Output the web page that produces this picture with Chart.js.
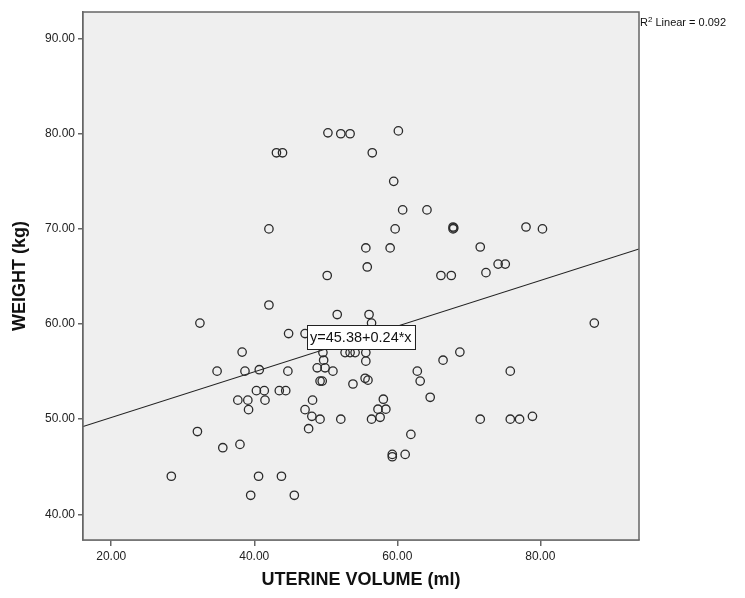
<!DOCTYPE html>
<html>
<head>
<meta charset="utf-8">
<script src="https://cdn.jsdelivr.net/npm/chart.js@4"></script>
<style>
html,body{margin:0;padding:0;background:#fff;}
#wrap{width:745px;height:598px;}
</style>
</head>
<body>
<div id="wrap"><canvas id="c" width="745" height="598"></canvas></div>
<script>
// Uterine volume (ml) for each subject
const uterineVolume = [
  28.4, 32.05, 32.4, 34.8, 35.6, 37.7, 38.0, 38.3, 38.7, 39.1,
  39.2, 39.5, 40.3, 40.6, 40.7, 41.4, 41.5, 42.05, 42.05, 43.1,
  43.95, 43.5, 43.8, 44.4, 44.7, 44.8, 45.6, 47.1, 47.1, 47.6,
  48.05, 48.15, 48.8, 49.2, 49.2, 49.5, 49.6, 49.7, 49.9, 50.2,
  50.3, 51.0, 51.6, 52.1, 52.1, 52.7, 53.4, 53.4, 53.8, 54.1,
  55.5, 55.6, 55.6, 55.6, 55.8, 55.9, 56.05, 56.4, 56.4, 56.5,
  57.3, 57.6, 58.05, 58.4, 59.0, 59.3, 59.3, 59.5, 59.7, 60.15,
  60.75, 61.1, 61.9, 62.8, 63.2, 64.15, 64.6, 66.1, 66.4, 67.55,
  67.8, 67.8, 67.9, 68.75, 71.6, 71.6, 72.4, 74.1, 75.1, 75.8,
  75.8, 77.1, 78.0, 78.9, 80.3, 87.55
];
// Weight (kg) for each subject
const weight = [
  44.0, 48.7, 60.1, 55.05, 47.0, 52.0, 47.35, 57.05, 55.05, 52.0,
  51.0, 42.0, 53.0, 44.0, 55.2, 53.0, 52.0, 62.0, 70.0, 78.0,
  78.0, 53.0, 44.0, 53.0, 55.05, 59.0, 42.0, 59.0, 51.0, 49.0,
  50.3, 52.0, 55.4, 50.0, 54.0, 54.0, 57.0, 56.2, 55.4, 65.1,
  80.1, 55.05, 61.0, 80.0, 50.0, 57.0, 57.0, 80.0, 53.7, 57.0,
  54.3, 57.0, 56.1, 68.0, 66.0, 54.1, 61.0, 60.1, 50.0, 78.0,
  51.05, 50.2, 52.1, 51.05, 68.0, 46.3, 46.05, 75.0, 70.0, 80.3,
  72.0, 46.3, 48.4, 55.05, 54.0, 72.0, 52.3, 65.1, 56.2, 65.1,
  70.0, 70.2, 70.1, 57.05, 68.1, 50.0, 65.4, 66.3, 66.3, 55.05,
  50.0, 50.0, 70.2, 50.3, 70.0, 60.1
];
const xTicks = [20, 40, 60, 80];
const yTicks = [40, 50, 60, 70, 80, 90];
const fitIntercept = 45.38;
const fitSlope = 0.24;
const fitLabel = "y=45.38+0.24*x";
const r2Parts = ["R", "2", " Linear = 0.092"];
const xTitle = "UTERINE VOLUME (ml)";
const yTitle = "WEIGHT (kg)";

const X_MIN = 16.05, X_MAX = 93.8, Y_MIN = 37.3, Y_MAX = 92.8;

const points = uterineVolume.map((v, i) => ({x: v, y: weight[i]}));
const fitLine = [X_MIN, X_MAX].map(x => ({x: x, y: fitIntercept + fitSlope * x}));

const FONT = "'Liberation Sans', Arial, sans-serif";
const BORDER = '#666666';

const plotFrame = {
  id: 'plotFrame',
  beforeDatasetsDraw(chart) {
    const a = chart.chartArea, ctx = chart.ctx;
    ctx.save();
    ctx.fillStyle = '#efefef';
    ctx.fillRect(a.left, a.top, a.right - a.left, a.bottom - a.top);
    ctx.restore();
  },
  afterDatasetsDraw(chart) {
    const a = chart.chartArea, ctx = chart.ctx;
    const xs = chart.scales.x, ys = chart.scales.y;
    ctx.save();
    ctx.strokeStyle = BORDER;
    ctx.lineWidth = 1.5;
    ctx.strokeRect(a.left, a.top, a.right - a.left, a.bottom - a.top);
    // fit equation label
    const cx = xs.getPixelForValue(54.9), cy = ys.getPixelForValue(58.6);
    ctx.font = "14.5px " + FONT;
    const w = ctx.measureText(fitLabel).width + 6, h = 24;
    ctx.fillStyle = '#ffffff';
    ctx.fillRect(cx - w / 2, cy - h / 2, w, h);
    ctx.strokeStyle = '#222';
    ctx.lineWidth = 1;
    ctx.strokeRect(Math.round(cx - w / 2) + 0.5, Math.round(cy - h / 2) + 0.5, Math.round(w), h);
    ctx.fillStyle = '#111';
    ctx.textAlign = 'center';
    ctx.textBaseline = 'middle';
    ctx.fillText(fitLabel, cx, cy + 1);
    // R2 label with superscript
    ctx.textAlign = 'left';
    ctx.textBaseline = 'alphabetic';
    let tx = a.right + 1;
    const base = a.top + 14;
    ctx.font = "11px " + FONT;
    ctx.fillText(r2Parts[0], tx, base);
    tx += ctx.measureText(r2Parts[0]).width;
    ctx.font = "8px " + FONT;
    ctx.fillText(r2Parts[1], tx, base - 4);
    tx += ctx.measureText(r2Parts[1]).width;
    ctx.font = "11px " + FONT;
    ctx.fillText(r2Parts[2], tx, base);
    ctx.restore();
  }
};

new Chart(document.getElementById('c'), {
  type: 'scatter',
  data: {
    datasets: [
      {
        data: points,
        pointStyle: 'circle',
        pointRadius: 4.2,
        pointHoverRadius: 4.2,
        borderColor: '#2a2a2a',
        borderWidth: 1.3,
        backgroundColor: 'rgba(0,0,0,0)',
        order: 1
      },
      {
        type: 'line',
        data: fitLine,
        borderColor: '#222',
        borderWidth: 1.1,
        pointRadius: 0,
        fill: false,
        order: 2
      }
    ]
  },
  options: {
    responsive: false,
    animation: false,
    devicePixelRatio: 1,
    layout: {padding: {left: 0, right: 106, top: 12, bottom: 0}},
    plugins: {legend: {display: false}, tooltip: {enabled: false}},
    scales: {
      x: {
        type: 'linear',
        min: X_MIN, max: X_MAX,
        afterBuildTicks: s => { s.ticks = xTicks.map(v => ({value: v})); },
        afterFit: s => { s.height = 58; },
        grid: {drawOnChartArea: false, drawTicks: true, tickLength: 6, color: BORDER, lineWidth: 1.5},
        border: {display: true, color: BORDER, width: 1.5},
        ticks: {
          callback: v => Number(v).toFixed(2),
          color: '#222', padding: 3,
          font: {family: FONT, size: 12},
          maxRotation: 0
        },
        title: {
          display: true, text: xTitle, color: '#111',
          font: {family: FONT, size: 18, weight: 'bold'},
          padding: {top: 0, bottom: 7}
        }
      },
      y: {
        type: 'linear',
        min: Y_MIN, max: Y_MAX,
        afterBuildTicks: s => { s.ticks = yTicks.map(v => ({value: v})); },
        afterFit: s => { s.width = 83; },
        grid: {drawOnChartArea: false, drawTicks: true, tickLength: 5, color: BORDER, lineWidth: 1.5},
        border: {display: true, color: BORDER, width: 1.5},
        ticks: {
          callback: v => Number(v).toFixed(2),
          color: '#222', padding: 3,
          font: {family: FONT, size: 12}
        },
        title: {
          display: true, text: yTitle, color: '#111',
          font: {family: FONT, size: 18, weight: 'bold'},
          padding: {top: 9, bottom: 0}
        }
      }
    }
  },
  plugins: [plotFrame]
});
</script>
</body>
</html>
